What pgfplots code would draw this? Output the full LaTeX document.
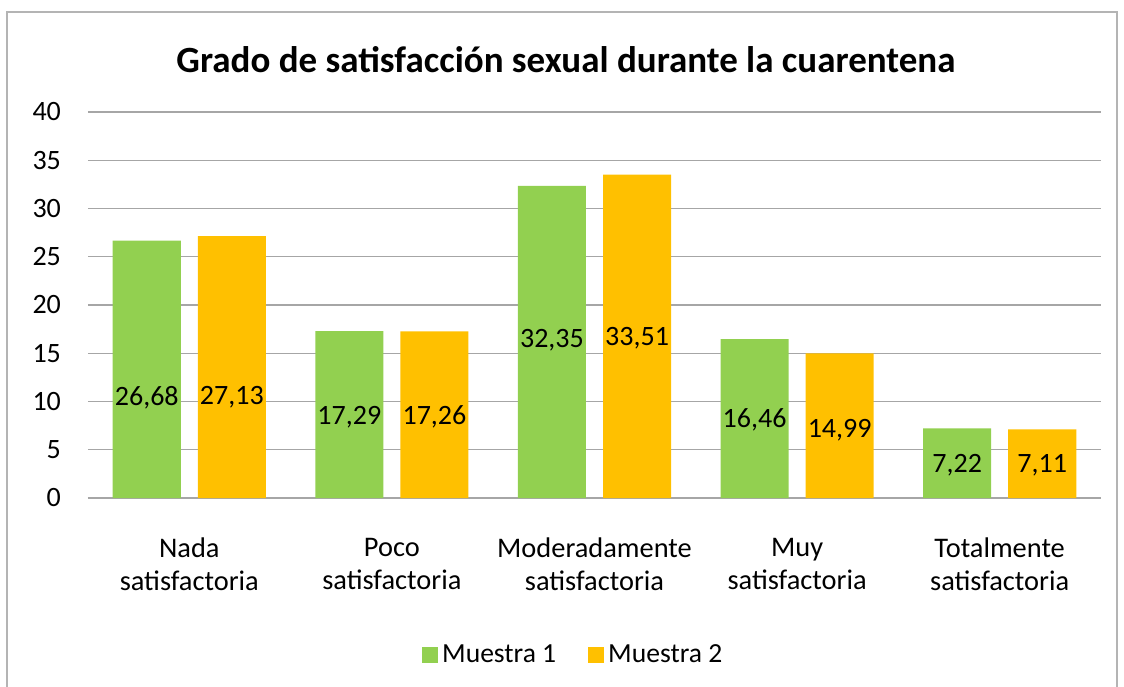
\documentclass[border=0pt]{standalone}
\usepackage{pgfplots}
\pgfplotsset{compat=1.18}
\usepackage{fontspec}
\setmainfont{Carlito}
\definecolor{cgreen}{HTML}{92D050}
\definecolor{cyell}{HTML}{FFC000}
\definecolor{cgrid}{HTML}{A6A6A6}
\definecolor{cborder}{HTML}{B4B4B4}
\begin{document}
\begin{tikzpicture}[x=1pt,y=1pt]
\useasboundingbox (0,0) rectangle (562,343);
\draw[cborder, line width=0.8pt] (3.5,-10) rectangle (558.5,337);
\node[font=\bfseries\fontsize{18.5}{22}\selectfont] at (283,313) {Grado de satisfacción sexual durante la cuarentena};
\begin{axis}[
  at={(44pt,94pt)}, anchor=south west,
  scale only axis, width=506.5pt, height=193pt,
  ymin=0, ymax=40, ytick={0,5,...,40},
  xmin=-0.5, xmax=4.5,
  xtick={0,1,2,3,4},
  xticklabels={{Nada\\satisfactoria},{Poco\\satisfactoria},{Moderadamente\\satisfactoria},{Muy\\satisfactoria},{Totalmente\\satisfactoria}},
  xticklabel style={align=center, font=\fontsize{14.2}{16.5}\selectfont, yshift=-16.5pt},
  yticklabel style={font=\fontsize{14}{16}\selectfont, xshift=-10pt},
  /pgf/number format/assume math mode=true,
  major tick length=0pt,
  ymajorgrids, grid style={cgrid, line width=0.7pt},
  axis lines*=left,
  x axis line style={cgrid, line width=0.8pt, -},
  y axis line style={draw=none},
  ybar, bar width=0.336,
  legend style={at={(0.48,-0.408)}, anchor=center, draw=none, legend columns=2,
    font=\fontsize{13.8}{16}\selectfont,
    /tikz/every even column/.append style={column sep=14pt}},
  legend image code/.code={\fill[#1] (0pt,-4pt) rectangle (8pt,4pt);},
  nodes near coords style={font=\fontsize{14}{16}\selectfont, anchor=center, text=black},
]
\addplot[fill=cgreen, draw=none, bar shift=-0.21] coordinates {(0,26.68) (1,17.29) (2,32.35) (3,16.46) (4,7.22)};
\addplot[fill=cyell, draw=none, bar shift=0.21] coordinates {(0,27.13) (1,17.26) (2,33.51) (3,14.99) (4,7.11)};
\addplot[draw=none, fill=none, bar shift=-0.21, forget plot, nodes near coords, point meta=explicit symbolic]
  coordinates {(0,10.4) [26,68] (1,8.4) [17,29] (2,16.4) [32,35] (3,8.1) [16,46] (4,3.4) [7,22]};
\addplot[draw=none, fill=none, bar shift=0.21, forget plot, nodes near coords, point meta=explicit symbolic]
  coordinates {(0,10.4) [27,13] (1,8.4) [17,26] (2,16.6) [33,51] (3,7.0) [14,99] (4,3.4) [7,11]};
\legend{Muestra 1, Muestra 2}
\end{axis}
\end{tikzpicture}
\end{document}
